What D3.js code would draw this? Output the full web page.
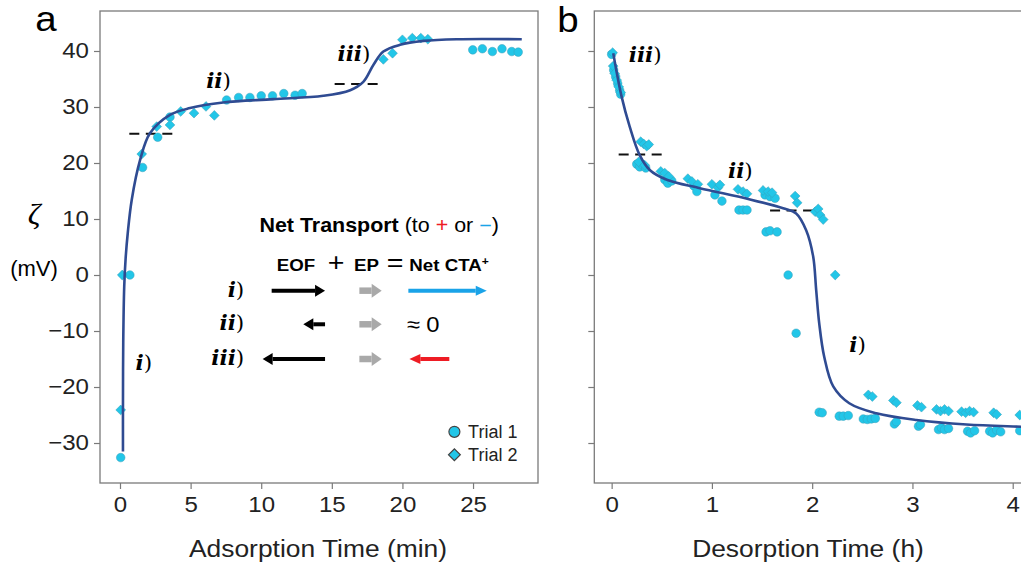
<!DOCTYPE html>
<html>
<head>
<meta charset="utf-8">
<script src="https://cdn.jsdelivr.net/npm/d3@7"></script>
<style>
  body { margin: 0; background: #fff; }
  svg { display: block; }
</style>
</head>
<body>
<svg id="fig" width="1021" height="563"></svg>
<script>
// ---- Panel a: zeta potential during CTA+ adsorption (time in min, zeta in mV) ----
const adsorbTrial1 = [
  [0.05, -32.6], [0.7, 0], [1.6, 19.2], [2.67, 24.6], [3.54, 28.2],
  [7.55, 31.25], [8.4, 31.7], [9.2, 31.7], [10.0, 32.0], [10.8, 32.0],
  [11.6, 32.4], [12.4, 32.1], [12.9, 32.4],
  [24.98, 40.2], [25.66, 40.4], [26.37, 39.9], [27.05, 40.4], [27.74, 39.9], [28.2, 39.8]
];
const adsorbTrial2 = [
  [0.05, -24.1], [0.16, 0], [1.54, 21.6], [2.6, 26.5], [3.54, 26.8],
  [4.3, 29.2], [5.24, 28.9], [6.09, 30.1], [6.68, 28.5],
  [18.65, 38.5], [19.3, 39.6], [20.0, 42.0], [20.7, 42.3], [21.3, 42.3], [21.8, 42.1]
];
const adsorbFit = [
  [0.21, -31.5], [0.21, -24], [0.23, -12], [0.3, -2], [0.4, 3], [0.55, 7.5],
  [0.83, 13.4], [1.42, 20.5], [2.12, 25.3], [3.54, 28.6], [4.96, 29.8],
  [7.3, 30.8], [10.86, 31.4], [14.4, 32.0], [16.3, 33.0], [17.23, 34.5],
  [17.94, 37.5], [18.65, 39.9], [19.83, 41.1], [21.5, 41.8], [23.85, 42.1], [28.45, 42.1]
];
const adsorbThresholds = [[0.66, 3.73, 25.2], [15.2, 18.3, 34.1]];
const adsorbStages = [["i", 1.1, -17], ["ii", 6.1, 33.4], ["iii", 15.4, 38.2]];
const adsorbTicks = [0, 5, 10, 15, 20, 25];

// ---- Panel b: zeta potential during desorption (time in h) ----
const desorbTrial1 = [
  [0.0, 39.4], [0.02, 36.6], [0.04, 35.4], [0.06, 34.2], [0.08, 33.0], [0.09, 32.3],
  [0.25, 19.8], [0.28, 19.3], [0.31, 19.6], [0.34, 19.1],
  [0.53, 17.0], [0.56, 16.4], [0.6, 16.8], [0.82, 15.9], [0.85, 14.9],
  [1.03, 14.3], [1.1, 13.2], [1.27, 11.6], [1.31, 11.6], [1.35, 11.6],
  [1.53, 14.3], [1.58, 14.0], [1.63, 13.7], [1.54, 7.7], [1.58, 7.9], [1.65, 7.7],
  [1.76, 0], [1.84, -10.4],
  [2.07, -24.5], [2.1, -24.6], [2.27, -25.2], [2.31, -25.2], [2.36, -25.1],
  [2.51, -25.7], [2.55, -25.8], [2.59, -25.7], [2.63, -25.6], [2.82, -26.6], [2.84, -26.2],
  [3.06, -27.0], [3.08, -26.7], [3.26, -27.6], [3.29, -27.3], [3.32, -27.6], [3.36, -27.4],
  [3.55, -27.9], [3.58, -28.2], [3.62, -27.8], [3.77, -27.9], [3.8, -28.2], [3.84, -27.7],
  [3.88, -28.0], [4.07, -27.8]
];
const desorbTrial2 = [
  [0.01, 39.7], [0.015, 37.3], [0.03, 36.0], [0.05, 34.8], [0.07, 33.6], [0.09, 32.6],
  [0.29, 23.8], [0.32, 23.4], [0.35, 23.0], [0.37, 23.3], [0.27, 20.2], [0.33, 19.6],
  [0.49, 18.5], [0.53, 18.2], [0.57, 17.6], [0.76, 17.2], [0.8, 16.7], [0.86, 16.2],
  [1.0, 16.2], [1.06, 15.6], [1.08, 16.1], [1.26, 15.3], [1.31, 14.9], [1.35, 14.5],
  [1.51, 15.1], [1.56, 14.9], [1.6, 14.7], [1.83, 14.1], [1.85, 12.9],
  [2.03, 11.3], [2.06, 11.8], [2.08, 10.7], [2.11, 9.9], [2.23, 0],
  [2.56, -21.4], [2.6, -21.7], [2.81, -22.4], [2.84, -22.8], [3.05, -23.3], [3.09, -23.6],
  [3.24, -24.0], [3.28, -24.3], [3.32, -24.0], [3.36, -24.3], [3.49, -24.4], [3.53, -24.6],
  [3.57, -24.3], [3.61, -24.5], [3.81, -24.6], [3.84, -24.9], [4.07, -25.0]
];
const desorbFit = [
  [0.016, 39.6], [0.1, 31.8], [0.18, 26.5], [0.28, 21.4], [0.38, 18.75], [0.55, 17.0],
  [0.88, 15.5], [1.38, 13.5], [1.71, 11.9], [1.84, 11.0], [1.94, 8.0], [2.01, 3.3],
  [2.04, -2.7], [2.07, -8.6], [2.12, -14.6], [2.21, -19.9], [2.37, -22.9], [2.64, -24.7],
  [3.04, -25.9], [3.54, -26.7], [4.1, -27.1], [4.4, -27.3]
];
const desorbThresholds = [[0.07, 0.52, 21.5], [1.58, 2.01, 11.5]];
const desorbStages = [["iii", 0.17, 38.0], ["ii", 1.16, 17.3], ["i", 2.37, -13.75]];
const desorbTicks = [0, 1, 2, 3, 4];

const zetaTicks = [-30, -20, -10, 0, 10, 20, 30, 40];
const trialNames = ["Trial 1", "Trial 2"];

// ---- styling ----
const SX = 1.12;                      // lettering is drawn slightly wide
const SANS = '"Liberation Sans", Arial, Helvetica, sans-serif';
const SERIF = '"DejaVu Serif", "Liberation Serif", serif';
const PT_FILL = "#22c6e8";
const PT_STROKE = "#3a9fb8";
const FIT = "#2f4b92";
const FRAME = "#7a7a7a";

const svg = d3.select("#fig");

// text placed in its own group so it can be stretched horizontally
function stext(parent, x, y, opts = {}) {
  const g = parent.append("g").attr("transform", `translate(${x},${y}) scale(${opts.sx || SX},1)`);
  return g.append("text")
    .attr("text-anchor", opts.anchor || "start")
    .attr("font-family", opts.family || SANS)
    .attr("font-size", opts.size || 19)
    .attr("font-weight", opts.weight || "normal")
    .attr("font-style", opts.style || "normal")
    .attr("fill", opts.fill || "#000");
}

const yScale = d3.scaleLinear().domain([-37.14, 47.14]).range([483, 11]);
const xA = d3.scaleLinear().domain([-1.416, 29.6]).range([100, 538]);
const xB = d3.scaleLinear().domain([-0.173, 4.33]).range([594.3, 1045.8]);

function panel(x, ticks, opts) {
  const g = svg.append("g");
  const [x0, x1] = x.range();
  const [yb, yt] = yScale.range();

  const clipId = "clip-" + opts.name;
  svg.append("clipPath").attr("id", clipId)
    .append("rect").attr("x", x0).attr("y", yt).attr("width", x1 - x0).attr("height", yb - yt);

  // x axis
  const xa = g.append("g").attr("transform", `translate(0,${yb})`)
    .call(d3.axisBottom(x).tickValues(ticks).tickSize(6).tickPadding(8).tickFormat(d3.format("d")));
  xa.select(".domain").remove();
  xa.selectAll(".tick line").attr("stroke", FRAME).attr("stroke-width", 1.2);
  xa.selectAll(".tick text").attr("font-family", SANS).attr("font-size", 21.5).attr("fill", "#222")
    .attr("transform", `scale(${SX},1)`);

  // y axis
  const ya = g.append("g").attr("transform", `translate(${x0},0)`)
    .call(d3.axisLeft(yScale).tickValues(zetaTicks).tickSize(6).tickPadding(5)
      .tickFormat(opts.yLabels ? (d => d < 0 ? "\u2212" + Math.abs(d) : d) : ""));
  ya.select(".domain").remove();
  ya.selectAll(".tick line").attr("stroke", FRAME).attr("stroke-width", 1.2);
  ya.selectAll(".tick text").attr("font-family", SANS).attr("font-size", 21.5).attr("fill", "#222")
    .attr("x", -11 / SX).attr("transform", `scale(${SX},1)`);

  // frame
  g.append("rect").attr("x", x0).attr("y", yt).attr("width", x1 - x0).attr("height", yb - yt)
    .attr("fill", "none").attr("stroke", FRAME).attr("stroke-width", 1.3);

  const plot = g.append("g").attr("clip-path", `url(#${clipId})`);

  // threshold markers
  plot.selectAll("line.thr").data(opts.thresholds).join("line")
    .attr("x1", d => x(d[0])).attr("x2", d => x(d[1]))
    .attr("y1", d => yScale(d[2])).attr("y2", d => yScale(d[2]))
    .attr("stroke", "#111").attr("stroke-width", 2).attr("stroke-dasharray", "10,6.5");

  // trial 1 circles
  plot.selectAll("circle.t1").data(opts.trial1).join("circle")
    .attr("cx", d => x(d[0])).attr("cy", d => yScale(d[1])).attr("r", 4.3)
    .attr("fill", PT_FILL).attr("stroke", PT_STROKE).attr("stroke-width", 0.5);

  // trial 2 diamonds
  const diamond = d3.symbol(d3.symbolSquare, 48);
  plot.selectAll("path.t2").data(opts.trial2).join("path")
    .attr("d", diamond)
    .attr("transform", d => `translate(${x(d[0])},${yScale(d[1])}) rotate(45)`)
    .attr("fill", PT_FILL).attr("stroke", PT_STROKE).attr("stroke-width", 0.5);

  // fitted curve
  plot.append("path").datum(opts.fit)
    .attr("d", d3.line().x(d => x(d[0])).y(d => yScale(d[1])).curve(d3.curveCatmullRom.alpha(0.5)))
    .attr("fill", "none").attr("stroke", FIT).attr("stroke-width", 2.6);

  // stage labels
  opts.stages.forEach(([roman, t, z]) => {
    const tx = stext(g, x(t), yScale(z), { size: 20, sx: 1.08 });
    tx.append("tspan").attr("font-family", SERIF).attr("font-weight", "bold").attr("font-style", "italic").text(roman);
    tx.append("tspan").attr("font-family", SERIF).text(")");
  });

  return g;
}

const gA = panel(xA, adsorbTicks, {
  name: "a", yLabels: true, trial1: adsorbTrial1, trial2: adsorbTrial2, fit: adsorbFit,
  thresholds: adsorbThresholds, stages: adsorbStages
});
const gB = panel(xB, desorbTicks, {
  name: "b", yLabels: false, trial1: desorbTrial1, trial2: desorbTrial2, fit: desorbFit,
  thresholds: desorbThresholds, stages: desorbStages
});

// panel letters
stext(svg, 46, 31, { size: 35, anchor: "middle", sx: 1.1 }).text("a");
stext(svg, 568, 32, { size: 35, anchor: "middle", sx: 1.1 }).text("b");

// axis titles
stext(svg, 318, 557, { size: 24, anchor: "middle", fill: "#222", sx: 1.1 }).text("Adsorption Time (min)");
stext(svg, 808, 557, { size: 24, anchor: "middle", fill: "#222", sx: 1.1 }).text("Desorption Time (h)");
stext(svg, 34, 224, { size: 30, anchor: "middle", family: '"Liberation Serif", serif', style: "italic", sx: 1.05 }).text("\u03b6");
stext(svg, 34, 276, { size: 22, anchor: "middle", sx: 1.0 }).text("(mV)");

// ---- transport scheme inside panel a (placed in data units) ----
const scheme = gA.append("g");
const hdr = stext(scheme, xA(18.35), yScale(7.6), { size: 19.5, anchor: "middle", sx: 1.1 });
hdr.append("tspan").attr("font-weight", "bold").text("Net Transport");
hdr.append("tspan").text(" (to ");
hdr.append("tspan").attr("fill", "#ee1c24").text("+");
hdr.append("tspan").text(" or ");
hdr.append("tspan").attr("fill", "#1aa3e8").text("\u2212");
hdr.append("tspan").text(")");

const eqParts = [["EOF", 12.46, 17], ["+", 15.3, 26], ["EP", 17.46, 17], ["=", 19.48, 26], ["Net CTA", 23.3, 17]];
eqParts.forEach(([s, t, size]) => {
  const tx = stext(scheme, xA(t), yScale(0.8), { size: size, anchor: "middle", sx: 1.1, weight: s.length > 1 ? "bold" : "normal" });
  tx.text(s);
  if (s === "Net CTA") tx.append("tspan").attr("font-size", 11).attr("dy", -6).text("+");
});

function arrow(parent, t1, t2, z, color, w, headL, headW) {
  const x1 = xA(t1), x2 = xA(t2), y = yScale(z);
  const dir = Math.sign(x2 - x1);
  const xb = x2 - dir * headL;
  parent.append("line").attr("x1", x1).attr("x2", xb).attr("y1", y).attr("y2", y)
    .attr("stroke", color).attr("stroke-width", w);
  parent.append("path")
    .attr("d", `M${x2},${y} L${xb},${y - headW / 2} L${xb},${y + headW / 2} Z`)
    .attr("fill", color);
}

const rows = [
  { roman: "i", z: -2.8, eof: [10.74, 14.52], net: [20.42, 25.97], netColor: "#1aa3e8" },
  { roman: "ii", z: -8.8, eof: [14.52, 12.98], net: null },
  { roman: "iii", z: -15.0, eof: [14.52, 10.1], net: [23.32, 20.49], netColor: "#ee1c24" }
];
rows.forEach(r => {
  const tx = stext(scheme, xA(8.8), yScale(r.z) + 6, { size: 20, anchor: "end", sx: 1.08 });
  tx.append("tspan").attr("font-family", SERIF).attr("font-weight", "bold").attr("font-style", "italic").text(r.roman);
  tx.append("tspan").attr("font-family", SERIF).text(")");
  arrow(scheme, r.eof[0], r.eof[1], r.z, "#000", 4, 10, 12);
  arrow(scheme, 16.95, 18.53, r.z, "#a9a9a9", 6.5, 10, 14);
  if (r.net) arrow(scheme, r.net[0], r.net[1], r.z, r.netColor, 4, 11, 10);
  else stext(scheme, xA(20.3), yScale(r.z) + 8, { size: 22, sx: 1.08 }).text("\u2248 0");
});

// legend
const legend = gA.append("g");
legend.append("circle").attr("cx", xA(23.68)).attr("cy", yScale(-28.0)).attr("r", 5.5)
  .attr("fill", PT_FILL).attr("stroke", "#444").attr("stroke-width", 1.2);
legend.append("path").attr("d", d3.symbol(d3.symbolSquare, 70))
  .attr("transform", `translate(${xA(23.68)},${yScale(-32.1)}) rotate(45)`)
  .attr("fill", PT_FILL).attr("stroke", "#444").attr("stroke-width", 1.2);
trialNames.forEach((n, i) => {
  stext(legend, xA(24.65), yScale(i === 0 ? -28.0 : -32.1) + 6.5, { size: 18, sx: 1.0, fill: "#222" }).text(n);
});
</script>
</body>
</html>
